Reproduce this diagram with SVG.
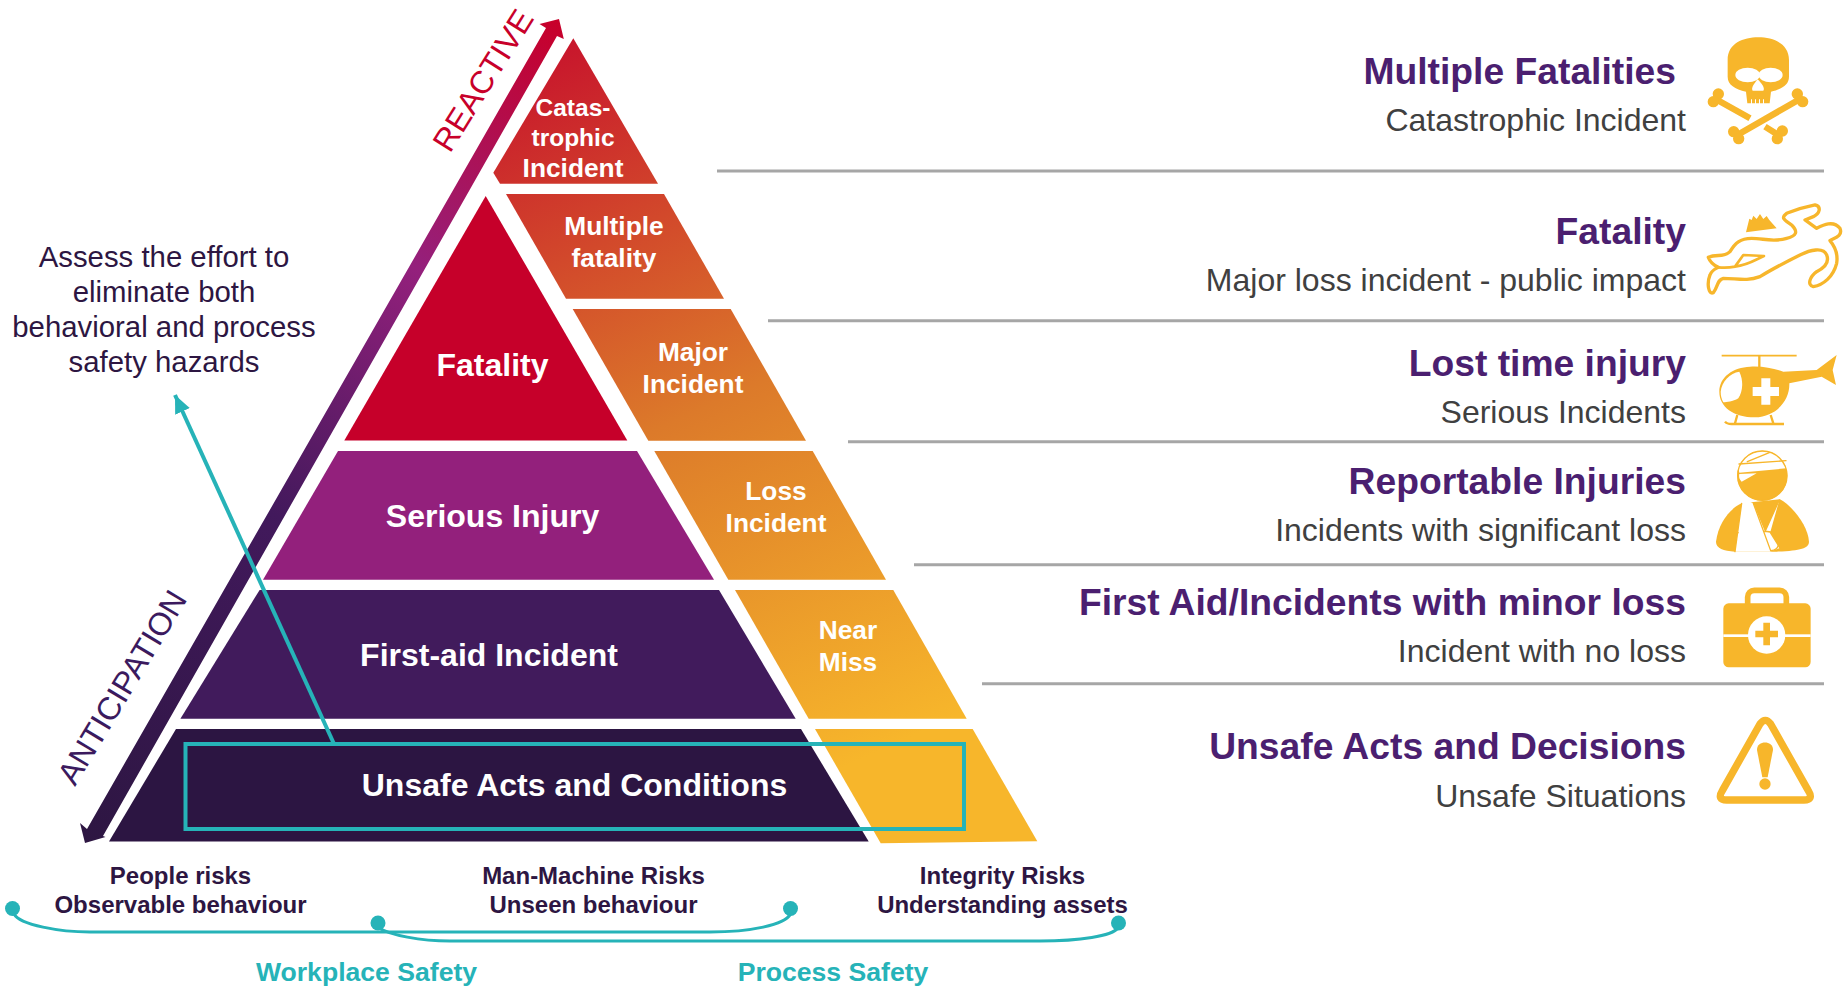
<svg xmlns="http://www.w3.org/2000/svg" width="1843" height="987" viewBox="0 0 1843 987">
<style>
text{font-family:"Liberation Sans",Arial,sans-serif}
.t{font-weight:700;fill:#fff;text-anchor:middle}
.s{font-size:26.300px}.b{font-size:32px}
.h{font-size:37.250px;font-weight:700;fill:#4b1f70;text-anchor:end}
.u{font-size:32px;fill:#404040;text-anchor:end}
.n{font-size:24px;font-weight:700;fill:#2d1642;text-anchor:middle}
.w{font-size:26.600px;font-weight:700;fill:#26b3b8;text-anchor:middle}
.a{font-size:29.350px;fill:#2d1642;text-anchor:middle}
.rule{stroke:#a6a6a6;stroke-width:3;fill:none}
.teal{stroke:#26b3b8;fill:none}
.ic{fill:#f7b62b}
.ol{fill:none;stroke:#f7b62b;stroke-linejoin:round;stroke-linecap:round}
.wh{fill:#fff}
</style>
<defs>
<linearGradient id="gr" gradientUnits="userSpaceOnUse" x1="540" y1="60" x2="860" y2="760">
<stop offset="0" stop-color="#c8172c"/><stop offset=".5" stop-color="#dc7a2a"/><stop offset="1" stop-color="#f7b62b"/>
</linearGradient>
<linearGradient id="ar" gradientUnits="userSpaceOnUse" x1="555" y1="20" x2="85" y2="843">
<stop offset="0" stop-color="#c8002a"/><stop offset=".3" stop-color="#94207c"/><stop offset=".6" stop-color="#42195c"/><stop offset="1" stop-color="#2d1642"/>
</linearGradient>
<marker id="tip" markerUnits="userSpaceOnUse" markerWidth="22" markerHeight="22" refX="18" refY="8" orient="auto">
<path d="M0,0L18,8L0,16Z" fill="#26b3b8"/>
</marker>
</defs>
<g id="direction-arrow">
<path fill="url(#ar)" d="M559,19L563.800,39L557,36L103,836L105.500,837L85,843L80,823L87,829L546,28L539.500,24Z"/>
<text transform="translate(450,154) rotate(-58)" font-size="32" fill="#c8002a">REACTIVE</text>
<text transform="translate(75,787) rotate(-59)" font-size="32" fill="#3b1a5e">ANTICIPATION</text>
</g>
<g id="node-catastrophic"><path fill="url(#gr)" d="M573.300,38.300L658,183.700H500L493.300,172.700Z"/><text class="t" font-size="24.500" x="573" y="116">Catas-</text><text class="t" font-size="24.500" x="573" y="146">trophic</text><text class="t s" x="573" y="177">Incident</text></g>
<g id="node-multiple"><path fill="url(#gr)" d="M506,194H664L724,298.700H566Z"/><text class="t s" x="614" y="235">Multiple</text><text class="t s" x="614" y="267">fatality</text></g>
<g id="node-major"><path fill="url(#gr)" d="M572.700,309H730.700L806,440.700H648.300Z"/><text class="t s" x="693" y="361">Major</text><text class="t s" x="693" y="393">Incident</text></g>
<g id="node-loss"><path fill="url(#gr)" d="M654.300,451H812.700L886,579.700H728.300Z"/><text class="t s" x="776" y="500">Loss</text><text class="t s" x="776" y="532">Incident</text></g>
<g id="node-near"><path fill="url(#gr)" d="M735,590H893.300L966.700,718.700H808.700Z"/><text class="t s" x="848" y="639">Near</text><text class="t s" x="848" y="671">Miss</text></g>
<g id="node-base-right"><path fill="url(#gr)" d="M815,729H972.700L1037.300,841.300L880.700,843.300Z"/></g>
<g id="node-fatality"><path fill="#c6002a" d="M485.700,196L627.300,440.500H344.300Z"/><text class="t b" x="492.500" y="376">Fatality</text></g>
<g id="node-serious"><path fill="#93207c" d="M338,451H637L714,579.700H263Z"/><text class="t b" x="492.500" y="527">Serious Injury</text></g>
<g id="node-firstaid"><path fill="#411b5c" d="M259.600,590H719L795.700,718.700H180.400Z"/><text class="t b" x="489" y="666">First-aid Incident</text></g>
<g id="node-unsafe"><path fill="#2c1542" d="M176,729H801L868.700,841.500H109Z"/><text class="t b" x="574.500" y="796">Unsafe Acts and Conditions</text></g>
<g id="connectors">
<path class="teal" stroke-width="4" d="M334.500,745L175,395" marker-end="url(#tip)"/>
<rect class="teal" stroke-width="4" x="185.500" y="744" width="778.500" height="85"/>
<path class="teal" stroke-width="3" d="M14,914C20,925 60,932 90,932H710C750,932 785,925 790.500,914"/>
<path class="teal" stroke-width="3" d="M379,928C390,935 420,941 450,941H1040C1080,941 1112,936 1118,928"/>
<g fill="#26b3b8"><circle cx="12.500" cy="908.500" r="7.500"/><circle cx="790.500" cy="908.500" r="7.500"/><circle cx="378" cy="923" r="7.500"/><circle cx="1118.500" cy="923" r="7.500"/></g>
</g>
<g id="note"><text class="a" x="164" y="267">Assess the effort to</text><text class="a" x="164" y="302">eliminate both</text><text class="a" x="164" y="337">behavioral and process</text><text class="a" x="164" y="372">safety hazards</text></g>
<g id="risks">
<text class="n" x="180.500" y="884">People risks</text><text class="n" x="180.500" y="913">Observable behaviour</text>
<text class="n" x="593.500" y="884">Man-Machine Risks</text><text class="n" x="593.500" y="913">Unseen behaviour</text>
<text class="n" x="1002.500" y="884">Integrity Risks</text><text class="n" x="1002.500" y="913">Understanding assets</text>
<text class="w" x="366.500" y="981">Workplace Safety</text><text class="w" x="833" y="981">Process Safety</text>
</g>
<g id="rules">
<path class="rule" d="M717,171H1824M768,320.700H1824M848,441.700H1824M914,564.700H1824M982,683.700H1824"/>
</g>
<g id="row-1"><text class="h" x="1676" y="84">Multiple Fatalities</text><text class="u" x="1686" y="131">Catastrophic Incident</text>
<g transform="translate(1660,20) scale(.3333)">
<path class="ic" d="M203,120C203,70 250,52 295,52C340,52 387,70 387,120V170C387,195 365,207 333,215L329,250L262,250L258,215C225,207 203,195 203,170Z"/>
<ellipse class="wh" cx="263" cy="165" rx="37" ry="22"/><ellipse class="wh" cx="332" cy="165" rx="36" ry="22"/><path class="wh" d="M293,178C283,190 272,205 278,212H310C316,205 305,190 293,178Z"/>
<path class="wh" d="M273,238h3v14h-3zM285,238h3v14h-3zM297,238h3v14h-3zM309,238h3v14h-3z"/>
<path fill="none" stroke="#f7b62b" stroke-width="19" d="M172,240L270,295M315,320L355,345M415,240L232,345"/>
<g class="ic"><circle cx="175" cy="222" r="17"/><circle cx="160" cy="245" r="17"/><circle cx="412" cy="222" r="17"/><circle cx="428" cy="245" r="17"/><circle cx="221" cy="335" r="17"/><circle cx="236" cy="356" r="17"/><circle cx="367" cy="333" r="17"/><circle cx="352" cy="356" r="17"/></g>
</g></g>
<g id="row-2"><text class="h" x="1686" y="244">Fatality</text><text class="u" x="1686" y="291">Major loss incident - public impact</text>
<g transform="translate(1660,20) scale(.3333)">
<path class="ol" stroke-width="10" d="M145,712C170,700 190,715 210,695C225,670 240,655 275,655C310,655 340,668 380,655C410,648 415,635 395,615C375,600 360,595 380,580C405,570 440,560 465,555C485,560 480,580 460,590L435,600L470,625C490,615 520,600 540,625C550,650 520,655 510,662C525,680 535,700 530,730C520,770 490,795 460,800C440,795 450,770 470,755C490,745 510,730 500,705C490,680 450,690 420,705C380,725 340,745 300,770C260,785 230,775 190,775C170,780 175,800 160,818C145,825 140,790 150,765C155,750 170,745 175,742C160,735 150,725 145,712Z"/>
<path class="ol" stroke-width="8" d="M175,742C200,745 215,742 225,740L250,705L312,708C285,720 265,735 225,740"/>
<path class="ic" d="M258,637L268,596L275,600L280,587L290,597L300,582L310,597L320,588L328,600L350,625Z"/>
</g></g>
<g id="row-3"><text class="h" x="1686" y="376">Lost time injury</text><text class="u" x="1686" y="423">Serious Incidents</text>
<g transform="translate(1660,340) scale(.3333)">
<path fill="none" stroke="#f7b62b" stroke-width="5" d="M185,47H410"/><path fill="none" stroke="#f7b62b" stroke-width="7" d="M298,47V85"/>
<path class="ic" d="M178,155C178,110 220,82 270,80C310,78 340,85 370,95L470,90L530,45L518,90L528,135L485,110L388,130C390,180 350,230 285,232C220,232 178,200 178,155Z"/>
<path class="wh" d="M182,155C185,125 210,98 238,95C250,120 250,150 235,175C218,185 200,187 190,187C185,178 182,168 182,155Z"/>
<path class="wh" d="M304,115h27v26h26v27h-26v26h-27v-26h-26v-27h26z"/>
<path fill="none" stroke="#f7b62b" stroke-width="7" d="M232,225L225,250M332,225L340,250M195,245C200,252 205,252 215,252H372"/>
</g></g>
<g id="row-4"><text class="h" x="1686" y="494">Reportable Injuries</text><text class="u" x="1686" y="541">Incidents with significant loss</text>
<g transform="translate(1660,340) scale(.3333)">
<circle class="ic" cx="307" cy="407" r="75"/>
<path class="wh" d="M235,385C240,355 275,334 307,334C345,334 372,358 379,385L238,398ZM238,402L290,400L245,425C238,418 236,410 238,402Z"/>
<circle cx="307" cy="407" r="74" fill="none" stroke="#f7b62b" stroke-width="4"/>
<path class="ol" stroke-width="4" d="M237,372L378,362M262,365L328,338"/>
<path class="ic" d="M168,605C175,550 210,505 245,490L360,478C400,500 445,560 447,605C447,625 420,632 350,635H225C190,632 168,625 168,605Z"/>
<path class="wh" d="M245,490L262,482L280,490L315,575L358,480L330,580L358,625L330,635H225Z"/>
<path class="ol" stroke-width="4" d="M245,490L225,635M280,490L332,632M358,480L315,575C340,572 358,590 356,610C355,625 345,632 332,632M208,578H235"/>
</g></g>
<g id="row-5"><text class="h" x="1686" y="615">First Aid/Incidents with minor loss</text><text class="u" x="1686" y="662">Incident with no loss</text>
<g transform="translate(1660,570) scale(.3333)">
<rect class="ic" x="190" y="100" width="262" height="192" rx="16"/>
<rect x="263" y="61" width="116" height="60" rx="20" fill="none" stroke="#f7b62b" stroke-width="17"/>
<rect class="wh" x="190" y="193" width="262" height="8"/>
<circle class="wh" cx="320" cy="195" r="56"/>
<path class="ic" d="M310,158h20v24h24v20h-24v24h-20v-24h-24v-20h24z"/>
</g></g>
<g id="row-6"><text class="h" x="1686" y="759">Unsafe Acts and Decisions</text><text class="u" x="1686" y="807">Unsafe Situations</text>
<g transform="translate(1660,570) scale(.3333)">
<path fill="none" stroke="#f7b62b" stroke-width="22" stroke-linejoin="round" d="M300,462Q316,440 332,462L445,662Q462,690 432,690H200Q170,690 187,662Z"/>
<path class="ic" d="M291,540C290,510 340,510 339,540L323,622H307Z"/><circle class="ic" cx="315" cy="642" r="17"/>
</g></g>
</svg>
